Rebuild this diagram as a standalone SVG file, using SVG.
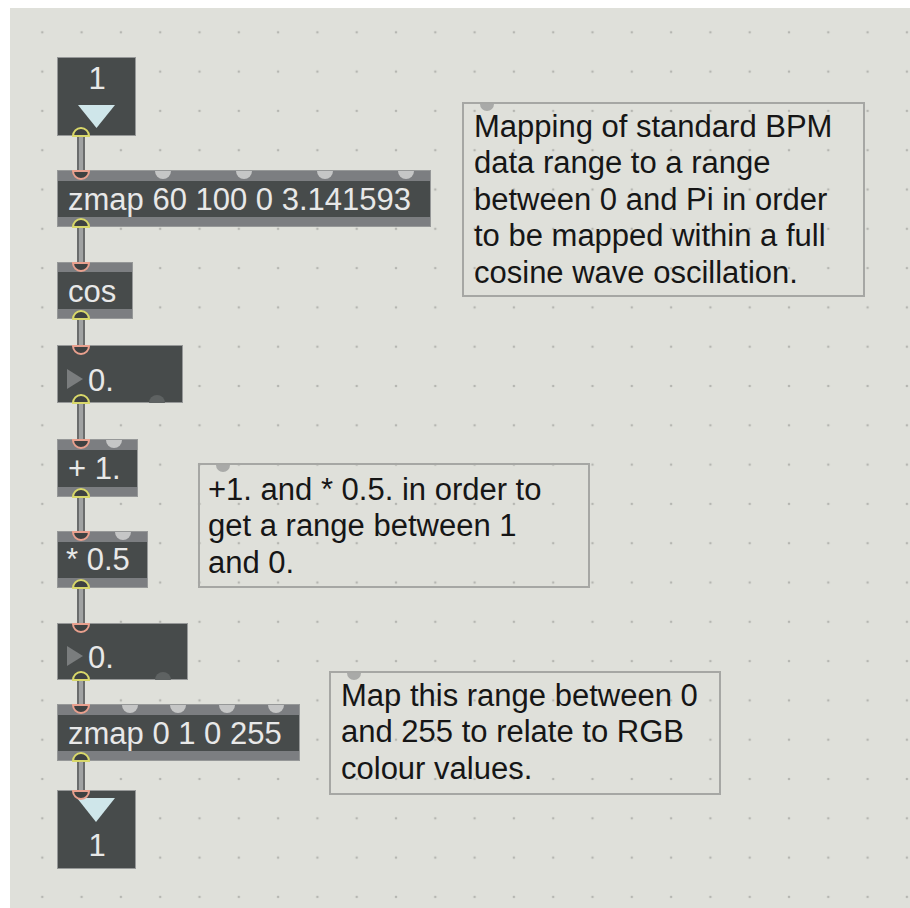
<svg xmlns="http://www.w3.org/2000/svg" width="910" height="908" viewBox="0 0 910 908">
<defs>
<pattern id="grid" patternUnits="userSpaceOnUse" x="22.65" y="12.65" width="39.3" height="39.3">
<circle cx="19.65" cy="19.65" r="1.3" fill="#b5b6b1"/>
</pattern>
<style>
.body{fill:#474b4b;stroke:#969898;stroke-width:1}
.bar{fill:#7c7e81}
.otxt{font-family:"Liberation Sans",Arial,sans-serif;font-size:31px;fill:#e8e8e8}
.ctxt{font-family:"Liberation Sans",Arial,sans-serif;font-size:31px;fill:#161616}
.cbox{fill:none;stroke:#a6a7a4;stroke-width:2}
.inl{fill:#3e4141;stroke:#e9a08e;stroke-width:2}
.outl{fill:#3e4141;stroke:#d9d86a;stroke-width:2}
.free{fill:#c5c6c6}
.freeo{fill:#5e6262}
.cin{fill:#a9aaa8}
.tri{fill:#cfe6ea}
.ntri{fill:#7a7d7e}
.wout{stroke:#6a6c6c;stroke-width:8;fill:none}
.win{stroke:#a0a2a2;stroke-width:4;fill:none}
</style>
</defs>
<rect x="0" y="0" width="910" height="908" fill="#ffffff"/>
<rect x="10" y="8" width="900" height="900" fill="#dfe0da"/>
<rect x="10" y="8" width="900" height="900" fill="url(#grid)"/>

<g id="connectors">
<path class="wout" d="M81 136V170M81 227V262M81 319V345M81 403V439M81 497V531M81 588V623M81 680V704M81 761V790"/>
<path class="win" d="M81 136V170M81 227V262M81 319V345M81 403V439M81 497V531M81 588V623M81 680V704M81 761V790"/>
</g>

<g id="inlet1">
<rect class="body" x="57.5" y="57.5" width="78" height="78"/>
<text class="otxt" x="97" y="89" text-anchor="middle">1</text>
<polygon class="tri" points="78,105 115,105 96.5,128"/>
<path class="outl" d="M73 136A8 8 0 0 1 89 136Z"/>
</g>

<g id="zmap1">
<rect class="body" x="57.5" y="170.5" width="373" height="56"/>
<rect class="bar" x="58" y="171" width="372" height="10"/>
<rect class="bar" x="58" y="217" width="372" height="9"/>
<path class="inl" d="M73 171A8 8 0 0 0 89 171Z"/>
<path class="free" d="M155 171A8 8 0 0 0 171 171Z"/>
<path class="free" d="M236 171A8 8 0 0 0 252 171Z"/>
<path class="free" d="M317 171A8 8 0 0 0 333 171Z"/>
<path class="free" d="M398 171A8 8 0 0 0 414 171Z"/>
<path class="outl" d="M73 227A8 8 0 0 1 89 227Z"/>
<text class="otxt" x="68" y="210">zmap 60 100 0 3.141593</text>
</g>

<g id="cos">
<rect class="body" x="57.5" y="262.5" width="75" height="56"/>
<rect class="bar" x="58" y="263" width="74" height="9"/>
<rect class="bar" x="58" y="309" width="74" height="9"/>
<path class="inl" d="M73 263A8 8 0 0 0 89 263Z"/>
<path class="outl" d="M73 319A8 8 0 0 1 89 319Z"/>
<text class="otxt" x="68" y="302">cos</text>
</g>

<g id="number1">
<rect class="body" x="57.5" y="345.5" width="125" height="57"/>
<polygon class="ntri" points="67,369 83,379 67,389"/>
<path class="inl" d="M73 346A8 8 0 0 0 89 346Z"/>
<path class="freeo" d="M149 403A8 8 0 0 1 165 403Z"/>
<path class="outl" d="M73 403A8 8 0 0 1 89 403Z"/>
<text class="otxt" x="88" y="391">0.</text>
</g>

<g id="plus">
<rect class="body" x="57.5" y="439.5" width="80" height="57"/>
<rect class="bar" x="58" y="440" width="79" height="10"/>
<rect class="bar" x="58" y="487" width="79" height="9"/>
<path class="inl" d="M73 440A8 8 0 0 0 89 440Z"/>
<path class="free" d="M106 440A8 8 0 0 0 122 440Z"/>
<path class="outl" d="M73 497A8 8 0 0 1 89 497Z"/>
<text class="otxt" x="68" y="479">+ 1.</text>
</g>

<g id="times">
<rect class="body" x="57.5" y="531.5" width="90" height="56"/>
<rect class="bar" x="58" y="532" width="89" height="10"/>
<rect class="bar" x="58" y="578" width="89" height="9"/>
<path class="inl" d="M73 532A8 8 0 0 0 89 532Z"/>
<path class="free" d="M115 532A8 8 0 0 0 131 532Z"/>
<path class="outl" d="M73 588A8 8 0 0 1 89 588Z"/>
<text class="otxt" x="66" y="570">* 0.5</text>
</g>

<g id="number2">
<rect class="body" x="57.5" y="623.5" width="130" height="56"/>
<polygon class="ntri" points="67,646 83,656 67,666"/>
<path class="inl" d="M73 624A8 8 0 0 0 89 624Z"/>
<path class="freeo" d="M155 680A8 8 0 0 1 171 680Z"/>
<path class="outl" d="M73 680A8 8 0 0 1 89 680Z"/>
<text class="otxt" x="88" y="668">0.</text>
</g>

<g id="zmap2">
<rect class="body" x="57.5" y="704.5" width="242" height="56"/>
<rect class="bar" x="58" y="705" width="241" height="10"/>
<rect class="bar" x="58" y="751" width="241" height="9"/>
<path class="inl" d="M73 705A8 8 0 0 0 89 705Z"/>
<path class="free" d="M122 705A8 8 0 0 0 138 705Z"/>
<path class="free" d="M170 705A8 8 0 0 0 186 705Z"/>
<path class="free" d="M219 705A8 8 0 0 0 235 705Z"/>
<path class="free" d="M268 705A8 8 0 0 0 284 705Z"/>
<path class="outl" d="M73 761A8 8 0 0 1 89 761Z"/>
<text class="otxt" x="68" y="744">zmap 0 1 0 255</text>
</g>

<g id="outlet1">
<rect class="body" x="57.5" y="790.5" width="78" height="78"/>
<polygon class="tri" points="77,798 115,798 96,822"/>
<path class="inl" d="M73 791A8 8 0 0 0 89 791Z"/>
<text class="otxt" x="97" y="856" text-anchor="middle">1</text>
</g>

<g id="comment1">
<rect class="cbox" x="463" y="103" width="401" height="193"/>
<path class="cin" d="M480 104A7 7 0 0 0 494 104Z"/>
<text class="ctxt"><tspan x="474" y="137">Mapping of standard BPM</tspan><tspan x="474" y="173">data range to a range</tspan><tspan x="474" y="210">between 0 and Pi in order</tspan><tspan x="474" y="246">to be mapped within a full</tspan><tspan x="474" y="283">cosine wave oscillation.</tspan></text>
</g>

<g id="comment2">
<rect class="cbox" x="199" y="464" width="390" height="123"/>
<path class="cin" d="M216 465A7 7 0 0 0 230 465Z"/>
<text class="ctxt"><tspan x="208" y="500">+1. and * 0.5. in order to</tspan><tspan x="208" y="536">get a range between 1</tspan><tspan x="208" y="573">and 0.</tspan></text>
</g>

<g id="comment3">
<rect class="cbox" x="330" y="672" width="390" height="122"/>
<path class="cin" d="M347 673A7 7 0 0 0 361 673Z"/>
<text class="ctxt"><tspan x="341" y="706">Map this range between 0</tspan><tspan x="341" y="742">and 255 to relate to RGB</tspan><tspan x="341" y="779">colour values.</tspan></text>
</g>
</svg>
